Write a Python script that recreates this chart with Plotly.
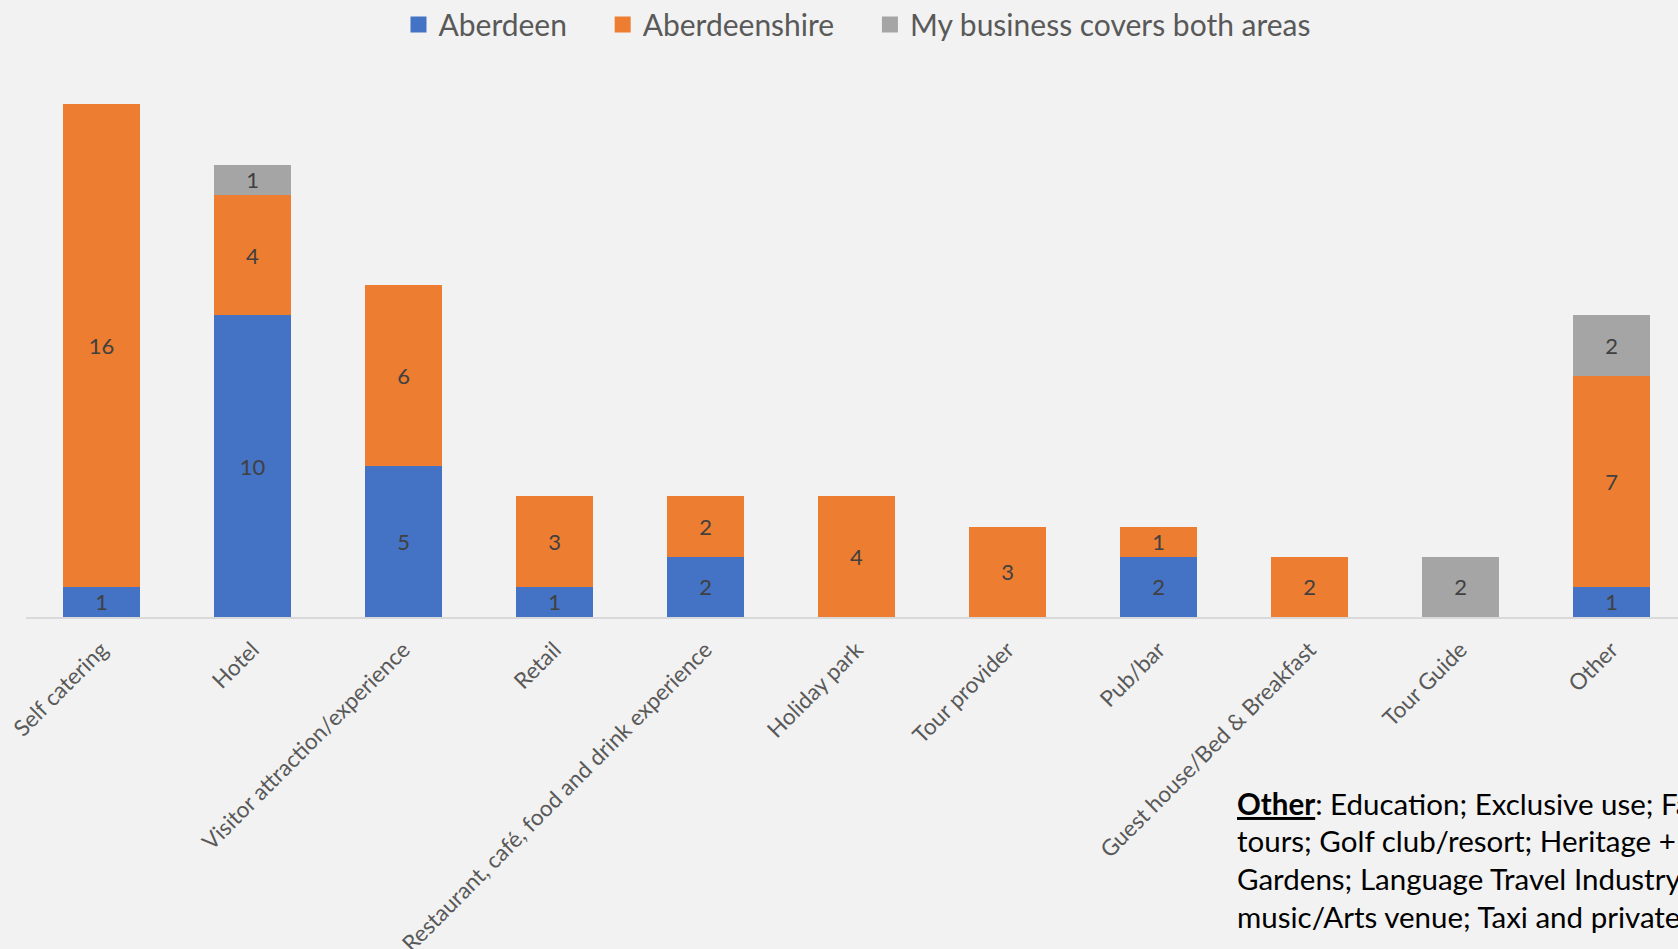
import plotly.graph_objects as go

categories = ["Self catering", "Hotel", "Visitor attraction/experience", "Retail",
              "Restaurant, café, food and drink experience", "Holiday park", "Tour provider",
              "Pub/bar", "Guest house/Bed & Breakfast", "Tour Guide", "Other"]
aberdeen = [1, 10, 5, 1, 2, 0, 0, 2, 0, 0, 1]
aberdeenshire = [16, 4, 6, 3, 2, 4, 3, 1, 2, 0, 7]
both_areas = [0, 1, 0, 0, 0, 0, 0, 0, 0, 2, 2]

series_names = ["Aberdeen", "Aberdeenshire", "My business covers both areas"]
series_values = [aberdeen, aberdeenshire, both_areas]
series_colors = ["#4472C4", "#ED7D31", "#A5A5A5"]
legend_pad = [4, 4, 0]  # trailing non-breaking spaces for legend spacing

other_lines = [
    "<b><span style='text-decoration:underline'>Other</span></b>: Education; Exclusive use; Fa",
    "tours; Golf club/resort; Heritage +",
    "Gardens; Language Travel Industry",
    "music/Arts venue; Taxi and private",
]

FONT = "Lato, 'Open Sans', sans-serif"
W, H = 1678, 949
ML, MR, MT, MB = 26, 0, 73.5, 331.5

fig = go.Figure()
for name, vals, col in zip(series_names, series_values, series_colors):
    fig.add_trace(go.Bar(
        name=name, x=categories, y=vals, legendgroup=name, showlegend=False,
        marker=dict(color=col, line=dict(width=0)),
        text=[str(v) if v else "" for v in vals],
        textposition="inside", insidetextanchor="middle", textangle=0,
        insidetextfont=dict(color="#404040", size=22, family=FONT),
        hoverinfo="skip",
    ))

# legend entries with larger square swatches
for name, col, pad in zip(series_names, series_colors, legend_pad):
    fig.add_trace(go.Scatter(
        name=name + "\u00a0" * pad, x=[None], y=[None], mode="markers",
        legendgroup=name, showlegend=True,
        marker=dict(symbol="square", size=16, color=col),
    ))

for i, line in enumerate(other_lines):
    yc = 804 + i * 37.8
    fig.add_annotation(
        text=line, xref="paper", yref="paper",
        x=(1235 - ML) / (W - ML - MR), y=(H - MB - yc) / (H - MT - MB),
        xanchor="left", yanchor="middle", showarrow=False,
        font=dict(family=FONT, size=29.5, color="#000000"), align="left",
    )

fig.update_layout(
    width=W, height=H,
    barmode="stack", bargap=0.49,
    paper_bgcolor="#F2F2F2", plot_bgcolor="#F2F2F2",
    margin=dict(l=ML, r=MR, t=MT, b=MB, autoexpand=False),
    font=dict(family=FONT, color="#595959"),
    uniformtext=dict(minsize=22, mode="show"),
    showlegend=True,
    legend=dict(orientation="h", xref="container", yref="container",
                x=398.5 / W, xanchor="left", y=1 - 24.6 / H, yanchor="middle",
                font=dict(size=30, color="#595959", family=FONT),
                bgcolor="rgba(0,0,0,0)", traceorder="normal"),
    xaxis=dict(range=[-0.5, 10.44], tickangle=-45, showgrid=False,
               showline=True, linecolor="#D9D9D9", linewidth=1.5,
               ticks="outside", ticklen=9, tickcolor="rgba(0,0,0,0)",
               tickfont=dict(size=22.5, color="#595959", family=FONT),
               automargin=False, fixedrange=True),
    yaxis=dict(range=[0, 18], visible=False, showgrid=False, zeroline=False,
               fixedrange=True),
)

fig.write_html("out.html")
